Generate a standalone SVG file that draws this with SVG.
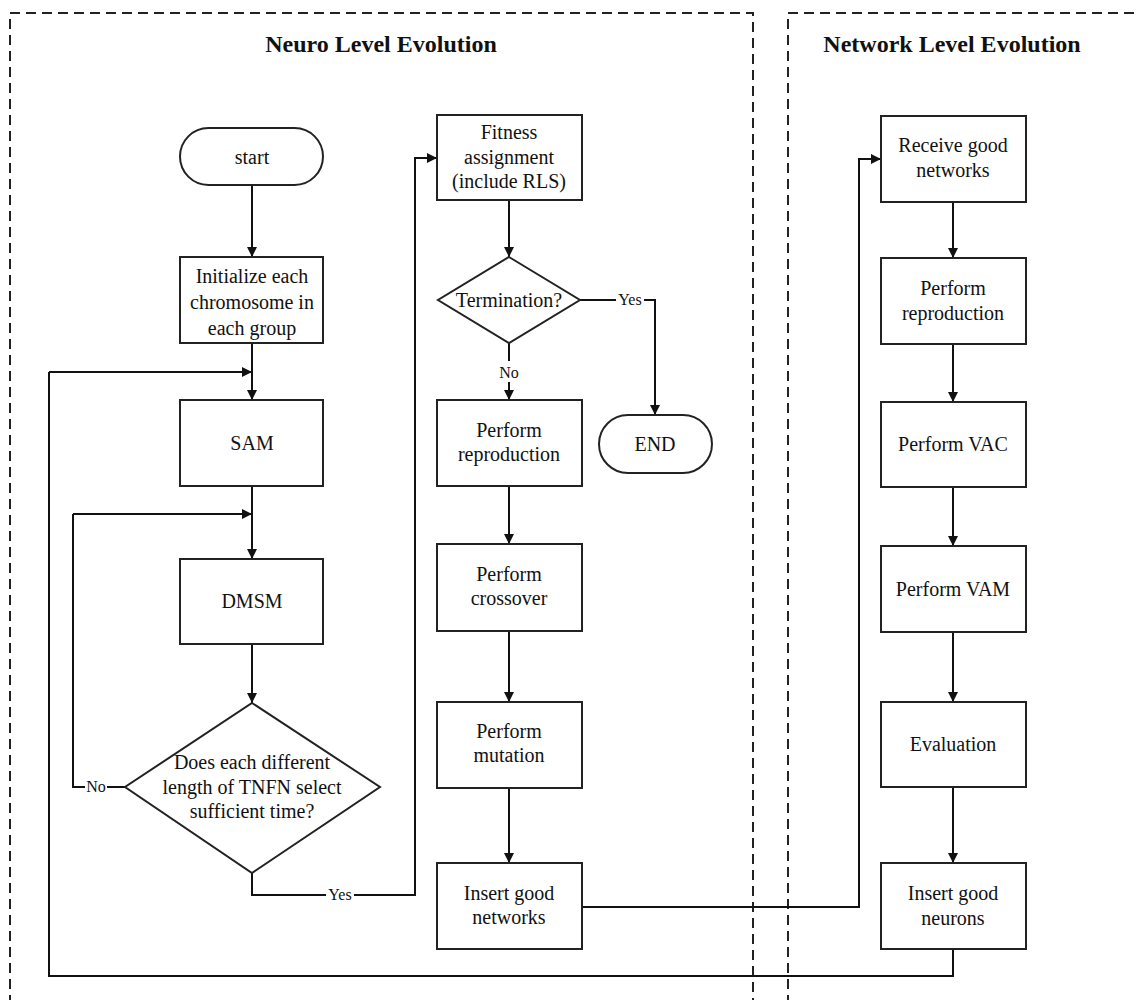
<svg xmlns="http://www.w3.org/2000/svg" width="1137" height="1000" viewBox="0 0 1137 1000">
<defs>
<marker id="arr" markerWidth="10" markerHeight="10" refX="10" refY="5" orient="auto" markerUnits="userSpaceOnUse">
<path d="M0,0 L10,5 L0,10 Z" fill="#111"/>
</marker>
<style>
.box{fill:#fff;stroke:#222;stroke-width:2}
.dash{fill:none;stroke:#222;stroke-width:2;stroke-dasharray:10,6}
.ln{fill:none;stroke:#111;stroke-width:2}
.t{font-family:"Liberation Serif","Times New Roman",serif;font-size:20px;fill:#111;text-anchor:middle}
.lab{font-family:"Liberation Serif","Times New Roman",serif;font-size:16px;fill:#111;text-anchor:middle}
.title{font-family:"Liberation Serif","Times New Roman",serif;font-size:24px;font-weight:bold;fill:#111;text-anchor:middle}
</style>
</defs>
<rect width="1137" height="1000" fill="#fff"/>
<g id="panels">
<path class="dash" d="M10,1005 V13 H753 V1005"/>
<path class="dash" d="M788,1005 V13 H1145"/>
<text class="title" x="381" y="52">Neuro Level Evolution</text>
<text class="title" x="952" y="52">Network Level Evolution</text>
</g>
<g id="connectors">
<path class="ln" d="M252,185 V257" marker-end="url(#arr)"/>
<path class="ln" d="M252,343 V400" marker-end="url(#arr)"/>
<path class="ln" d="M49,372 H252" marker-end="url(#arr)"/>
<path class="ln" d="M252,486 V559" marker-end="url(#arr)"/>
<path class="ln" d="M73,514 H252" marker-end="url(#arr)"/>
<path class="ln" d="M252,644 V703" marker-end="url(#arr)"/>
<path class="ln" d="M125,787 H107"/>
<path class="ln" d="M85,787 H73 V514"/>
<text class="lab" x="96" y="792">No</text>
<path class="ln" d="M252,873 V895 H326"/>
<text class="lab" x="340" y="900">Yes</text>
<path class="ln" d="M354,895 H415 V158 H437" marker-end="url(#arr)"/>
<path class="ln" d="M509,200 V257" marker-end="url(#arr)"/>
<path class="ln" d="M580,300 H616"/>
<text class="lab" x="630" y="305">Yes</text>
<path class="ln" d="M644,300 H655 V415" marker-end="url(#arr)"/>
<path class="ln" d="M509,343 V361"/>
<text class="lab" x="509" y="378">No</text>
<path class="ln" d="M509,382 V400" marker-end="url(#arr)"/>
<path class="ln" d="M509,486 V544" marker-end="url(#arr)"/>
<path class="ln" d="M509,631 V702" marker-end="url(#arr)"/>
<path class="ln" d="M509,788 V863" marker-end="url(#arr)"/>
<path class="ln" d="M582,907 H859 V159 H881" marker-end="url(#arr)"/>
<path class="ln" d="M953,202 V258" marker-end="url(#arr)"/>
<path class="ln" d="M953,344 V402" marker-end="url(#arr)"/>
<path class="ln" d="M953,487 V546" marker-end="url(#arr)"/>
<path class="ln" d="M953,632 V702" marker-end="url(#arr)"/>
<path class="ln" d="M953,787 V863" marker-end="url(#arr)"/>
<path class="ln" d="M953,949 V976 H49 V372"/>
</g>
<g id="start">
<rect class="box" x="180" y="128" width="143" height="57" rx="28.5"/>
<text class="t" x="252" y="164">start</text>
</g>
<g id="init">
<rect class="box" x="180" y="257" width="143" height="86"/>
<text class="t" x="252" y="283">Initialize each</text>
<text class="t" x="252" y="309">chromosome in</text>
<text class="t" x="252" y="335">each group</text>
</g>
<g id="sam">
<rect class="box" x="180" y="400" width="143" height="86"/>
<text class="t" x="252" y="450">SAM</text>
</g>
<g id="dmsm">
<rect class="box" x="180" y="559" width="143" height="85"/>
<text class="t" x="252" y="608">DMSM</text>
</g>
<g id="decision1">
<polygon class="box" points="252,703 380,787 252,873 125,787"/>
<text class="t" x="252" y="769">Does each different</text>
<text class="t" x="252" y="794">length of TNFN select</text>
<text class="t" x="252" y="818">sufficient time?</text>
</g>
<g id="fitness">
<rect class="box" x="437" y="115" width="145" height="85"/>
<text class="t" x="509" y="139">Fitness</text>
<text class="t" x="509" y="164">assignment</text>
<text class="t" x="509" y="188">(include RLS)</text>
</g>
<g id="termination">
<polygon class="box" points="509,257 580,300 509,343 438,300"/>
<text class="t" x="509" y="307">Termination?</text>
</g>
<g id="end">
<rect class="box" x="599" y="415" width="113" height="58" rx="29"/>
<text class="t" x="655" y="451">END</text>
</g>
<g id="reproduction1">
<rect class="box" x="437" y="400" width="145" height="86"/>
<text class="t" x="509" y="437">Perform</text>
<text class="t" x="509" y="461">reproduction</text>
</g>
<g id="crossover">
<rect class="box" x="437" y="544" width="145" height="87"/>
<text class="t" x="509" y="581">Perform</text>
<text class="t" x="509" y="605">crossover</text>
</g>
<g id="mutation">
<rect class="box" x="437" y="702" width="145" height="86"/>
<text class="t" x="509" y="738">Perform</text>
<text class="t" x="509" y="762">mutation</text>
</g>
<g id="insertNetworks">
<rect class="box" x="437" y="863" width="145" height="86"/>
<text class="t" x="509" y="900">Insert good</text>
<text class="t" x="509" y="924">networks</text>
</g>
<g id="receive">
<rect class="box" x="881" y="116" width="145" height="86"/>
<text class="t" x="953" y="152">Receive good</text>
<text class="t" x="953" y="177">networks</text>
</g>
<g id="reproduction2">
<rect class="box" x="881" y="258" width="145" height="86"/>
<text class="t" x="953" y="295">Perform</text>
<text class="t" x="953" y="320">reproduction</text>
</g>
<g id="vac">
<rect class="box" x="881" y="402" width="145" height="85"/>
<text class="t" x="953" y="451">Perform VAC</text>
</g>
<g id="vam">
<rect class="box" x="881" y="546" width="145" height="86"/>
<text class="t" x="953" y="596">Perform VAM</text>
</g>
<g id="evaluation">
<rect class="box" x="881" y="702" width="145" height="85"/>
<text class="t" x="953" y="751">Evaluation</text>
</g>
<g id="insertNeurons">
<rect class="box" x="881" y="863" width="145" height="86"/>
<text class="t" x="953" y="900">Insert good</text>
<text class="t" x="953" y="925">neurons</text>
</g>
</svg>
